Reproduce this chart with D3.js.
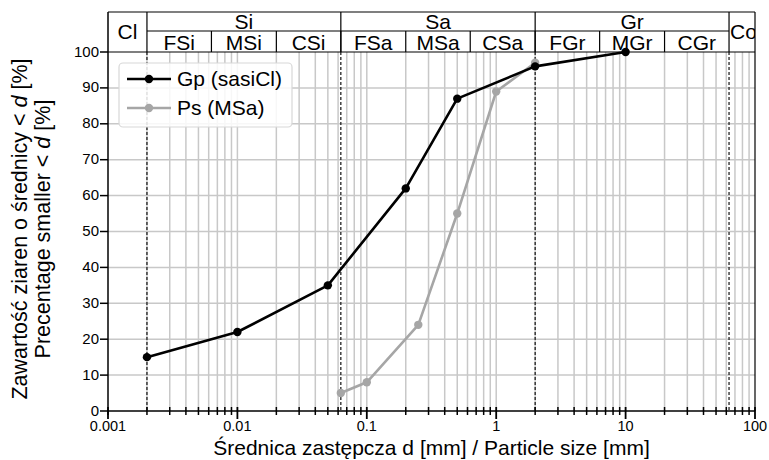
<!DOCTYPE html>
<html><head><meta charset="utf-8">
<script src="https://cdn.jsdelivr.net/npm/d3@7"></script>
<style>body{margin:0;background:#fff}svg{font-family:"Liberation Sans",Arial,sans-serif}</style>
</head><body><svg id="c" width="769" height="460"></svg>
<script>
const gpX = [0.002, 0.01, 0.05, 0.2, 0.5, 2, 10];
const gpY = [15, 22, 35, 62, 87, 96, 100];
const psX = [0.063, 0.1, 0.25, 0.5, 1, 2];
const psY = [5, 8, 24, 55, 89, 97];
const seriesNames = ["Gp (sasiCl)", "Ps (MSa)"];
const xTickLabels = ["0.001", "0.01", "0.1", "1", "10", "100"];
const yTicks = [0,10,20,30,40,50,60,70,80,90,100];
const mainBounds = [0.001, 0.002, 0.063, 2, 63, 100];
const mainNames = ["Cl", "Si", "Sa", "Gr", "Co"];
const subBounds = [0.002, 0.0063, 0.02, 0.063, 0.2, 0.63, 2, 6.3, 20, 63];
const subNames = ["FSi","MSi","CSi","FSa","MSa","CSa","FGr","MGr","CGr"];
const dashedAt = [0.002, 0.063, 2, 63];

const svg = d3.select("#c");
const L = 108, R = 755, T = 52, B = 411;
const x = d3.scaleLog().domain([0.001, 100]).range([L, R]);
const y = d3.scaleLinear().domain([0, 100]).range([B, T]);

svg.append("defs").append("clipPath").attr("id","hc").append("rect").attr("x",L).attr("y",0).attr("width",R-L).attr("height",T);

const minors = [];
for (let k=-3;k<=1;k++) for (let m=2;m<=9;m++) minors.push(m*Math.pow(10,k));
const decades = xTickLabels.map(Number);

// grid
const grid = svg.append("g");
grid.selectAll("line.v").data(minors.concat(decades.slice(1,-1))).join("line")
  .attr("x1",d=>x(d)).attr("x2",d=>x(d)).attr("y1",T).attr("y2",B)
  .attr("stroke","#c8c8c8").attr("stroke-width",1.5);
grid.selectAll("line.h").data(yTicks.slice(1,-1)).join("line")
  .attr("x1",L).attr("x2",R).attr("y1",d=>y(d)).attr("y2",d=>y(d))
  .attr("stroke","#c8c8c8").attr("stroke-width",1.5);

// dashed boundaries
svg.append("g").selectAll("line").data(dashedAt).join("line")
  .attr("x1",d=>x(d)).attr("x2",d=>x(d)).attr("y1",T).attr("y2",B)
  .attr("stroke","#111").attr("stroke-width",1.2).attr("stroke-dasharray","3,2");

// series
const line = d3.line().x(d=>x(d[0])).y(d=>y(d[1]));
const series = [
  {pts: gpX.map((v,i)=>[v,gpY[i]]), color:"#000"},
  {pts: psX.map((v,i)=>[v,psY[i]]), color:"#a6a6a6"}
];
[series[1], series[0]].forEach(s=>{
  svg.append("path").attr("d",line(s.pts)).attr("fill","none").attr("stroke",s.color).attr("stroke-width",2.6).attr("stroke-linejoin","round");
  svg.append("g").selectAll("circle").data(s.pts).join("circle")
    .attr("cx",d=>x(d[0])).attr("cy",d=>y(d[1])).attr("r",4.2).attr("fill",s.color);
});

// plot frame
svg.append("line").attr("x1",R).attr("x2",R).attr("y1",12).attr("y2",B).attr("stroke","#000").attr("stroke-width",1.2);
svg.append("line").attr("x1",L).attr("x2",R).attr("y1",T).attr("y2",T).attr("stroke","#000").attr("stroke-width",1.2);

// x axis
const xa = svg.append("g");
xa.append("line").attr("x1",L).attr("x2",R).attr("y1",B).attr("y2",B).attr("stroke","#000").attr("stroke-width",1.5);
xa.selectAll("line.mi").data(minors).join("line")
  .attr("x1",d=>x(d)).attr("x2",d=>x(d)).attr("y1",B-4).attr("y2",B+4).attr("stroke","#000").attr("stroke-width",1.5);
xa.selectAll("line.ma").data(decades).join("line")
  .attr("x1",d=>x(d)).attr("x2",d=>x(d)).attr("y1",B-4).attr("y2",B+8).attr("stroke","#000").attr("stroke-width",1.8);
xa.selectAll("text").data(xTickLabels).join("text")
  .attr("x",d=>x(+d)).attr("y",B+20).attr("text-anchor","middle").attr("font-size",14.5).attr("fill","#000").text(d=>d);

// y axis
const ya = svg.append("g");
ya.append("line").attr("x1",L).attr("x2",L).attr("y1",12).attr("y2",B+4).attr("stroke","#000").attr("stroke-width",1.5);
ya.selectAll("line.t").data(yTicks).join("line")
  .attr("x1",L-8).attr("x2",L).attr("y1",d=>y(d)).attr("y2",d=>y(d)).attr("stroke","#000").attr("stroke-width",1.5);
ya.selectAll("text").data(yTicks).join("text")
  .attr("x",L-9).attr("y",d=>y(d)+4.5).attr("text-anchor","end").attr("font-size",15).attr("fill","#000").text(d=>d);

// header
const H = svg.append("g");
H.append("line").attr("x1",L).attr("x2",R).attr("y1",12).attr("y2",12).attr("stroke","#000").attr("stroke-width",1.2);
H.append("line").attr("x1",x(0.002)).attr("x2",x(63)).attr("y1",31).attr("y2",31).attr("stroke","#000").attr("stroke-width",1.2);
H.selectAll("line.mb").data(mainBounds.slice(1,-1)).join("line")
  .attr("x1",d=>x(d)).attr("x2",d=>x(d)).attr("y1",12).attr("y2",T).attr("stroke","#000").attr("stroke-width",1.2);
H.selectAll("line.sb").data(subBounds.slice(1,-1)).join("line")
  .attr("x1",d=>x(d)).attr("x2",d=>x(d)).attr("y1",31).attr("y2",T).attr("stroke","#000").attr("stroke-width",1.2);
const hg = H.append("g").attr("clip-path","url(#hc)");
hg.selectAll("text.m").data(mainNames).join("text")
  .attr("x",(d,i)=> (d==="Co") ? x(mainBounds[i])+1 : (x(mainBounds[i])+x(mainBounds[i+1]))/2)
  .attr("y",(d)=> (d==="Cl"||d==="Co") ? 39 : 29)
  .attr("text-anchor",d=>d==="Co"?"start":"middle").attr("font-size",21).attr("fill","#000").text(d=>d);
hg.selectAll("text.s").data(subNames).join("text")
  .attr("x",(d,i)=>(x(subBounds[i])+x(subBounds[i+1]))/2).attr("y",50)
  .attr("text-anchor","middle").attr("font-size",21).attr("fill","#000").text(d=>d);

// legend
const lg = svg.append("g");
lg.append("rect").attr("x",119).attr("y",63).attr("width",173).attr("height",64).attr("rx",4)
  .attr("fill","rgba(255,255,255,0.85)").attr("stroke","#d8d8d8").attr("stroke-width",1.2);
[series[0], series[1]].forEach((s,i)=>{
  const yy = 79 + i*29;
  lg.append("line").attr("x1",127).attr("x2",171).attr("y1",yy).attr("y2",yy).attr("stroke",s.color).attr("stroke-width",2.6);
  lg.append("circle").attr("cx",149).attr("cy",yy).attr("r",4.2).attr("fill",s.color);
  lg.append("text").attr("x",177).attr("y",yy+7).attr("font-size",21).attr("fill","#000").text(seriesNames[i]);
});

// axis titles
svg.append("text").attr("x",(L+R)/2).attr("y",455).attr("text-anchor","middle").attr("font-size",21).attr("fill","#000")
  .text("Średnica zastępcza d [mm] / Particle size [mm]");
const yt = svg.append("text").attr("transform","translate(0,229) rotate(-90)").attr("text-anchor","middle").attr("font-size",21.5).attr("fill","#000");
yt.append("tspan").attr("x",0).attr("y",27).text("Zawartość ziaren o średnicy < ");
yt.append("tspan").attr("font-style","italic").text("d");
yt.append("tspan").text(" [%]");
yt.append("tspan").attr("x",0).attr("y",50).text("Precentage smaller < ");
yt.append("tspan").attr("font-style","italic").text("d");
yt.append("tspan").text(" [%]");
</script></body></html>
